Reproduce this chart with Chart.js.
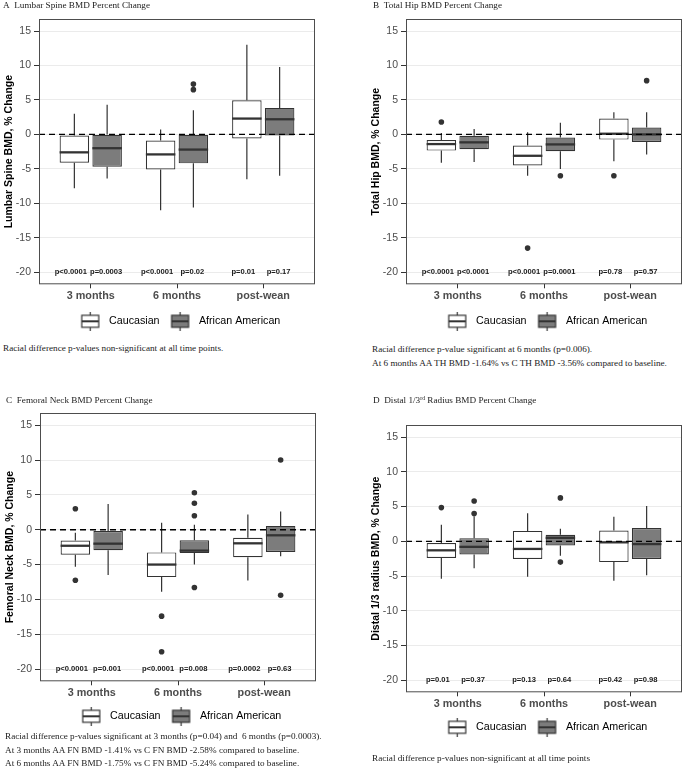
<!DOCTYPE html>
<html lang="en">
<head>
<meta charset="UTF-8">
<title>BMD Percent Change</title>
<script src="https://cdn.jsdelivr.net/npm/chart.js"></script>
<style>
    body { margin: 0; background: #fff; }
    .page { position: relative; width: 685px; height: 778px; overflow: hidden; }
    .panel { position: absolute; }
    .title, .note {
        position: absolute;
        font-family: "Liberation Serif", "Times New Roman", serif;
        font-size: 9.2px;
        color: #222;
        white-space: nowrap;
        line-height: 10px;
    }
    .note { line-height: 13.6px; }
    sup { font-size: 5.8px; vertical-align: 3px; line-height: 0; }
</style>
</head>
<body>
<div class="page">
    <canvas id="chartA" class="panel"></canvas>
    <canvas id="chartB" class="panel"></canvas>
    <canvas id="chartC" class="panel"></canvas>
    <canvas id="chartD" class="panel"></canvas>

    <div class="title" style="left:3px;top:0px">A&nbsp;&nbsp;Lumbar Spine BMD Percent Change</div>
    <div class="title" style="left:373px;top:0px">B&nbsp;&nbsp;Total Hip BMD Percent Change</div>
    <div class="title" style="left:6px;top:395px">C&nbsp;&nbsp;Femoral Neck BMD Percent Change</div>
    <div class="title" style="left:373px;top:395px">D&nbsp;&nbsp;Distal 1/3<sup>rd</sup> Radius BMD Percent Change</div>

    <div class="note" style="left:3px;top:342px">Racial difference p-values non-significant at all time points.</div>
    <div class="note" style="left:372px;top:343px">Racial difference p-value significant at 6 months (p=0.006).<br>At 6 months AA TH BMD -1.64% vs C TH BMD -3.56% compared to baseline.</div>
    <div class="note" style="left:5px;top:730px">Racial difference p-values significant at 3 months (p=0.04) and &nbsp;6 months (p=0.0003).<br>At 3 months AA FN BMD -1.41% vs C FN BMD -2.58% compared to baseline.<br>At 6 months AA FN BMD -1.75% vs C FN BMD -5.24% compared to baseline.</div>
    <div class="note" style="left:372px;top:752px">Racial difference p-values non-significant at all time points</div>
</div>

<script>
    const timePoints = ['3 months', '6 months', 'post-wean'];
    const groups = ['Caucasian', 'African American'];
    const yTicks = [-20, -15, -10, -5, 0, 5, 10, 15];

    // rows: [lower whisker, Q1, median, Q3, upper whisker] for each time point
    const spineCauc = [[-7.8, -4.1, -2.6, -0.15, 3.0], [-11.0, -5.1, -2.9, -0.9, 0.7], [-6.5, -0.6, 2.3, 4.95, 13.0]];
    const spineAA = [[-6.4, -4.7, -2.0, 0.0, 4.3], [-10.6, -4.2, -2.2, 0.0, 3.5], [-6.0, -0.15, 2.2, 3.85, 9.8]];
    const spineCaucOut = [[], [], []];
    const spineAAOut = [[], [7.3, 6.5], []];
    const spineP = [['p<0.0001', 'p=0.0003'], ['p<0.0001', 'p=0.02'], ['p=0.01', 'p=0.17']];

    const hipCauc = [[-4.1, -2.35, -1.4, -0.8, 0.2], [-6.0, -4.5, -3.1, -1.6, 0.3], [-3.9, -0.75, 0.1, 2.3, 3.2]];
    const hipAA = [[-4.0, -2.15, -1.15, -0.2, 0.8], [-5.0, -2.45, -1.45, -0.45, 1.7], [-2.9, -1.1, 0.0, 1.0, 3.2]];
    const hipCaucOut = [[1.8], [-16.5], [-6.0]];
    const hipAAOut = [[], [-6.0], [7.8]];
    const hipP = [['p<0.0001', 'p<0.0001'], ['p<0.0001', 'p=0.0001'], ['p=0.78', 'p=0.57']];

    const neckCauc = [[-5.3, -3.6, -2.3, -1.55, -0.45], [-8.9, -6.8, -5.0, -3.25, 1.0], [-7.3, -3.95, -1.95, -1.15, 2.2]];
    const neckAA = [[-6.5, -2.95, -2.0, -0.2, 3.7], [-5.0, -3.35, -3.0, -1.5, 0.7], [-3.8, -3.2, -0.8, 0.55, 2.6]];
    const neckCaucOut = [[3.0, -7.25], [-12.4, -17.5], []];
    const neckAAOut = [[], [5.3, 3.8, 2.0, -8.3], [10.0, -9.4]];
    const neckP = [['p<0.0001', 'p=0.001'], ['p<0.0001', 'p=0.008'], ['p=0.0002', 'p=0.63']];

    const radiusCauc = [[-5.4, -2.4, -1.3, -0.25, 2.4], [-5.1, -2.55, -1.1, 1.5, 4.05], [-5.7, -3.0, -0.15, 1.55, 3.55]];
    const radiusAA = [[-3.9, -1.9, -0.8, 0.45, 3.6], [-2.1, -0.6, 0.5, 0.95, 1.8], [-4.9, -2.55, -0.4, 1.9, 5.1]];
    const radiusCaucOut = [[4.85], [], []];
    const radiusAAOut = [[5.8, 4.0], [6.25, -3.0], []];
    const radiusP = [['p=0.01', 'p=0.37'], ['p=0.13', 'p=0.64'], ['p=0.42', 'p=0.98']];

    const SANS = '"Liberation Sans", Arial, sans-serif';
    const LINE = '#333333';
    const FILLS = ['#ffffff', '#7c7c7c'];
    const CAT_PCT = 0.76;
    const BAR_PCT = 0.9;
    const DODGE = [-CAT_PCT / 4, CAT_PCT / 4];
    const P_SHIFT = [-3.5, -1];   // p-value labels sit a bit apart from the box centres
    const LEGEND_H = 25;

    Chart.defaults.font.family = SANS;

    // little boxplot glyph for the legend
    function legendIcon(fill) {
        const c = document.createElement('canvas');
        c.width = 30; c.height = 20;
        const g = c.getContext('2d');
        g.strokeStyle = LINE;
        g.lineWidth = 1.2;
        g.beginPath();
        g.moveTo(16.5, 0); g.lineTo(16.5, 4);
        g.moveTo(16.5, 16); g.lineTo(16.5, 20);
        g.stroke();
        g.fillStyle = fill;
        g.fillRect(8, 4, 17, 12);
        g.strokeRect(8, 4, 17, 12);
        g.lineWidth = 2;
        g.beginPath(); g.moveTo(8, 10); g.lineTo(25, 10); g.stroke();
        return c;
    }
    const icons = FILLS.map(legendIcon);

    const boxPlot = {
        id: 'boxPlot',
        beforeDatasetsDraw(chart) {
            const { ctx, scales: { y } } = chart;
            ctx.save();
            ctx.strokeStyle = LINE;
            ctx.lineWidth = 1.2;
            chart.data.datasets.forEach((ds, di) => {
                if (!ds.stats) return;
                chart.getDatasetMeta(di).data.forEach((bar, i) => {
                    const s = ds.stats[i];
                    ctx.beginPath();
                    ctx.moveTo(bar.x, y.getPixelForValue(s[0]));
                    ctx.lineTo(bar.x, y.getPixelForValue(s[1]));
                    ctx.moveTo(bar.x, y.getPixelForValue(s[3]));
                    ctx.lineTo(bar.x, y.getPixelForValue(s[4]));
                    ctx.stroke();
                });
            });
            ctx.restore();
        },
        afterDatasetsDraw(chart, args, opts) {
            const { ctx, chartArea: a, scales: { y } } = chart;
            ctx.save();
            // medians
            ctx.strokeStyle = LINE;
            ctx.lineWidth = 2.3;
            chart.data.datasets.forEach((ds, di) => {
                if (!ds.stats) return;
                chart.getDatasetMeta(di).data.forEach((bar, i) => {
                    const py = y.getPixelForValue(ds.stats[i][2]);
                    ctx.beginPath();
                    ctx.moveTo(bar.x - bar.width / 2, py);
                    ctx.lineTo(bar.x + bar.width / 2, py);
                    ctx.stroke();
                });
            });
            // reference line at zero
            const y0 = y.getPixelForValue(0);
            ctx.strokeStyle = '#000';
            ctx.lineWidth = 1.3;
            ctx.setLineDash([6, 4]);
            ctx.beginPath();
            ctx.moveTo(a.left, y0);
            ctx.lineTo(a.right, y0);
            ctx.stroke();
            ctx.setLineDash([]);
            // p-values at -20
            ctx.fillStyle = '#1a1a1a';
            ctx.font = 'bold 7.6px ' + SANS;
            ctx.textAlign = 'center';
            ctx.textBaseline = 'middle';
            const yp = y.getPixelForValue(-20);
            chart.data.datasets.forEach((ds, di) => {
                if (!ds.stats) return;
                chart.getDatasetMeta(di).data.forEach((bar, i) => {
                    ctx.fillText(opts.pvals[i][ds.group], bar.x + P_SHIFT[ds.group], yp);
                });
            });
            ctx.restore();
        },
        afterDraw(chart) {
            const { ctx, chartArea: a } = chart;
            ctx.save();
            ctx.strokeStyle = '#4d4d4d';
            ctx.lineWidth = 1;
            ctx.strokeRect(a.left + 0.5, a.top + 0.5, a.right - a.left - 1, a.bottom - a.top - 1);
            ctx.restore();
        }
    };

    function boxDataset(g, rows) {
        return {
            type: 'bar',
            label: groups[g],
            group: g,
            stats: rows,
            data: rows.map((r, i) => ({ x: i + 1, y: [r[1], r[3]] })),
            backgroundColor: FILLS[g],
            borderColor: LINE,
            borderWidth: 1.2,
            borderSkipped: false,
            categoryPercentage: CAT_PCT,
            barPercentage: BAR_PCT
        };
    }

    function outlierDataset(g, outs) {
        const pts = [];
        outs.forEach((vals, i) => vals.forEach(v => pts.push({ x: i + 1 + DODGE[g], y: v })));
        return {
            type: 'scatter',
            label: groups[g] + ' outliers',
            data: pts,
            pointRadius: 2.8,
            backgroundColor: LINE,
            borderWidth: 0
        };
    }

    function makePanel(id, p) {
        const cv = document.getElementById(id);
        cv.width = p.width;
        cv.height = p.height;
        cv.style.left = p.left + 'px';
        cv.style.top = p.top + 'px';

        const padLeft = p.area.l - p.left - 39;
        const xH = p.legendY - 9.35 - p.area.b;
        const padBottom = (p.top + p.height) - (p.area.b + xH + LEGEND_H);

        new Chart(cv, {
            type: 'scatter',
            data: {
                datasets: [
                    boxDataset(0, p.cauc),
                    boxDataset(1, p.aa),
                    outlierDataset(0, p.caucOut),
                    outlierDataset(1, p.aaOut)
                ]
            },
            options: {
                responsive: false,
                animation: false,
                events: [],
                layout: {
                    autoPadding: false,
                    padding: { left: padLeft, top: p.area.t - p.top, right: p.left + p.width - p.area.r, bottom: padBottom }
                },
                plugins: {
                    tooltip: { enabled: false },
                    boxPlot: { pvals: p.pvals },
                    legend: {
                        position: 'bottom',
                        fullSize: false,
                        maxHeight: LEGEND_H,
                        labels: {
                            usePointStyle: true,
                            pointStyleWidth: 30,
                            padding: 4,
                            color: '#1a1a1a',
                            font: { size: 10.7 },
                            generateLabels: () => groups.map((g, i) => ({
                                text: g, pointStyle: icons[i], fillStyle: FILLS[i],
                                strokeStyle: LINE, lineWidth: 0, hidden: false, datasetIndex: i
                            }))
                        }
                    }
                },
                scales: {
                    x: {
                        type: 'linear',
                        min: 0.4,
                        max: 3.6,
                        offset: false,
                        afterBuildTicks: s => { s.ticks = timePoints.map((t, i) => ({ value: i + 1 })); },
                        afterFit: s => { s.height = xH; },
                        ticks: {
                            callback: v => timePoints[Math.round(v) - 1],
                            autoSkip: false,
                            maxRotation: 0,
                            padding: 1,
                            color: '#4d4d4d',
                            font: { size: 10.8, weight: 'bold' }
                        },
                        grid: { drawOnChartArea: false, offset: false, tickLength: 4, tickColor: LINE },
                        border: { display: false }
                    },
                    y: {
                        min: -21.75,
                        max: 16.75,
                        afterBuildTicks: s => { s.ticks = yTicks.map(v => ({ value: v })); },
                        afterFit: s => { s.width = 39; },
                        ticks: { padding: 3, color: '#4d4d4d', font: { size: 10.5 } },
                        grid: { color: '#ebebeb', lineWidth: 1, tickLength: 5, tickColor: LINE },
                        border: { display: false },
                        title: {
                            display: true,
                            text: p.yTitle,
                            color: '#000',
                            font: { size: 10.5, weight: 'bold' },
                            padding: { top: 3.2, bottom: 0 }
                        }
                    }
                }
            },
            plugins: [boxPlot]
        });
    }

    makePanel('chartA', {
        left: 0, top: 0, width: 342, height: 340,
        area: { l: 39, t: 19, r: 315, b: 284 }, legendY: 321,
        cauc: spineCauc, aa: spineAA, caucOut: spineCaucOut, aaOut: spineAAOut, pvals: spineP,
        yTitle: 'Lumbar Spine BMD, % Change'
    });
    makePanel('chartB', {
        left: 342, top: 0, width: 343, height: 340,
        area: { l: 406, t: 19, r: 682, b: 284 }, legendY: 321,
        cauc: hipCauc, aa: hipAA, caucOut: hipCaucOut, aaOut: hipAAOut, pvals: hipP,
        yTitle: 'Total Hip BMD, % Change'
    });
    makePanel('chartC', {
        left: 0, top: 380, width: 342, height: 356,
        area: { l: 40, t: 413, r: 316, b: 681 }, legendY: 716,
        cauc: neckCauc, aa: neckAA, caucOut: neckCaucOut, aaOut: neckAAOut, pvals: neckP,
        yTitle: 'Femoral Neck BMD, % Change'
    });
    makePanel('chartD', {
        left: 342, top: 380, width: 343, height: 366,
        area: { l: 406, t: 425, r: 682, b: 692 }, legendY: 727,
        cauc: radiusCauc, aa: radiusAA, caucOut: radiusCaucOut, aaOut: radiusAAOut, pvals: radiusP,
        yTitle: 'Distal 1/3 radius BMD, % Change'
    });
</script>
</body>
</html>
